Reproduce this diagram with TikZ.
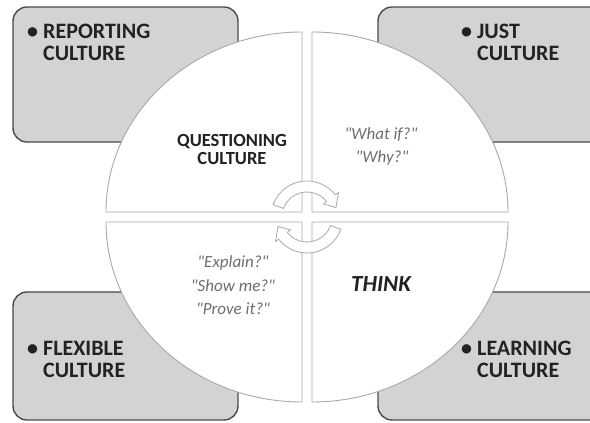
\documentclass[tikz,border=0pt]{standalone}
\usepackage{fontspec}
\setmainfont{Carlito}
\definecolor{boxgray}{HTML}{D3D3D3}
\definecolor{edgegray}{HTML}{4A4A4A}
\definecolor{rimgray}{HTML}{A8A8A8}
\definecolor{quotegray}{HTML}{6E6E6E}
\definecolor{inkgray}{HTML}{222222}
\newcommand{\qt}[1]{\textquotedbl#1\textquotedbl}

\tikzset{
	culture/.style={draw=edgegray,line width=1.4pt,fill=boxgray,rounded corners=14pt},
	quarter/.style={draw=rimgray,line width=0.9pt,fill=white},
	turn/.style={draw=rimgray,line width=0.8pt,fill=white,line join=round},
	boxtext/.style={inkgray,font=\fontsize{22}{22}\selectfont\bfseries,align=left,inner sep=0pt,anchor=base west},
	midtext/.style={inkgray,font=\fontsize{18.5}{18}\selectfont\bfseries,align=center,inner sep=0pt,anchor=base},
	quote/.style={quotegray,font=\fontsize{17}{17}\selectfont\itshape,inner sep=0pt,anchor=base},
}

\begin{document}
\begin{tikzpicture}[x=1pt,y=1pt]
	\useasboundingbox (0,0) rectangle (590,423);
	\clip (0,0) rectangle (590,423);

	% the four culture boxes
	\draw[culture] (13,281) rectangle (238,416);
	\draw[culture] (378,281) rectangle (610,416);
	\draw[culture] (13,3) rectangle (238,131);
	\draw[culture] (378,3) rectangle (610,131);

	\node[boxtext] (rep) at (27,362) {\makebox[16pt][l]{\textbullet}REPORTING\\\hspace*{16pt}CULTURE};
	\node[boxtext] (just) at (461,362) {\makebox[16pt][l]{\textbullet}JUST\\\hspace*{16pt}CULTURE};
	\node[boxtext] (flex) at (27,45) {\makebox[16pt][l]{\textbullet}FLEXIBLE\\\hspace*{16pt}CULTURE};
	\node[boxtext] (learn) at (461,45) {\makebox[16pt][l]{\textbullet}LEARNING\\\hspace*{16pt}CULTURE};

	% circle cut in quarters
	\coordinate (hub) at (307,206);
	\draw[quarter] (302,211) -- (106,211) arc[start angle=180,end angle=90,x radius=196,y radius=180] -- cycle;
	\draw[quarter] (312,211) -- (312,391) arc[start angle=90,end angle=0,x radius=196,y radius=180] -- cycle;
	\draw[quarter] (302,201) -- (302,21) arc[start angle=270,end angle=180,x radius=196,y radius=180] -- cycle;
	\draw[quarter] (312,201) -- (508,201) arc[start angle=0,end angle=-90,x radius=196,y radius=180] -- cycle;

	\node[midtext] (quest) at (232,258) {QUESTIONING\\CULTURE};
	\node[quote] (what) at (381,283) {\qt{What if?}};
	\node[quote] (why) at (382,260) {\qt{Why?}};
	\node[quote] (expl) at (233,155) {\qt{Explain?}};
	\node[quote] (show) at (233,131) {\qt{Show me?}};
	\node[quote] (prove) at (233,108) {\qt{Prove it?}};
	\node[inkgray,font=\fontsize{23}{23}\selectfont\bfseries\itshape,inner sep=0pt,anchor=base] (think) at (381,131) {THINK};

	% turning arrows
	\foreach \rot in {0,180}
		\draw[turn,shift={(hub)},rotate=\rot] (160:36) arc[start angle=160,end angle=38,radius=36] -- (38:40) -- (18:30.5) -- (38:21) -- (38:25) arc[start angle=38,end angle=160,radius=25] -- cycle;
\end{tikzpicture}
\end{document}
